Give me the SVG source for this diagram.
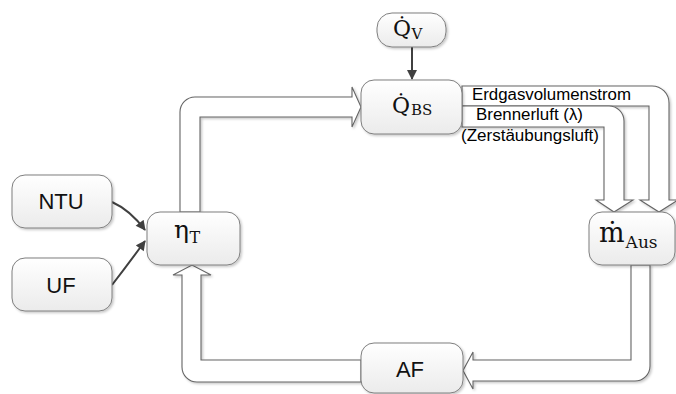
<svg xmlns="http://www.w3.org/2000/svg" width="676" height="394" viewBox="0 0 676 394">
  <defs>
    <linearGradient id="boxFill" x1="0" y1="0" x2="0" y2="1">
      <stop offset="0" stop-color="#ffffff"/>
      <stop offset="1" stop-color="#ebebeb"/>
    </linearGradient>
    <filter id="shadow" x="-10%" y="-10%" width="125%" height="130%">
      <feDropShadow dx="1.5" dy="1.5" stdDeviation="1" flood-color="#000000" flood-opacity="0.22"/>
    </filter>
    <marker id="head" viewBox="0 0 10 10" refX="9" refY="5" markerWidth="11" markerHeight="10" markerUnits="userSpaceOnUse" orient="auto">
      <path d="M0,0 L10,5 L0,10 Z" fill="#404040"/>
    </marker>
    <style>
      .box { fill: url(#boxFill); stroke: #7f7f7f; stroke-width: 1; filter: url(#shadow); }
      .flow { fill: #ffffff; stroke: #656565; stroke-width: 1.1; stroke-linejoin: miter; filter: url(#shadow); }
      .link { fill: none; stroke: #404040; stroke-width: 2; marker-end: url(#head); }
      .lbl { font-family: "Liberation Sans", Arial, sans-serif; fill: #000000; }
      .node { font-family: "Liberation Sans", Arial, sans-serif; font-size: 22px; fill: #111111; text-anchor: middle; }
      .math { font-family: "DejaVu Serif", "Liberation Serif", serif; fill: #111111; }
    </style>
  </defs>

  <g id="connectors">
    <!-- wide flow arrows -->
    <path class="flow" d="M180,212 V112 A15,15 0 0 1 195,97 H352 V87 L361,107 L352,127 V117 H200 V212 Z"/>
    <path class="flow" d="M361,360 H201 V275 H211 L192,265 L173,275 H182 V367 A15,15 0 0 0 197,382 H361 Z"/>
    <path class="flow" d="M631,265 V360 H473 V352 L463,370.5 L473,389 V381 H635 A15,15 0 0 0 650,366 V265 Z"/>
    <path class="flow" d="M462,86 H652 A17,17 0 0 1 669,103 V200 H678 L659,212 L640,200 H649 V106 H462 Z"/>
    <path class="flow" d="M462,106 H609 A15,15 0 0 1 624,121 V200 H633 L614,212 L596,200 H604 V127 H462 Z"/>
    <!-- thin arrows -->
    <path class="link" d="M112,202 Q130,210 145,230"/>
    <path class="link" d="M112,285 Q129,263 145,241"/>
    <path class="link" d="M412,47 V79"/>
    <!-- flow labels -->
    <text class="lbl" x="472" y="100" font-size="16" textLength="159" lengthAdjust="spacingAndGlyphs">Erdgasvolumenstrom</text>
    <text class="lbl" x="476" y="120" font-size="16" textLength="107" lengthAdjust="spacingAndGlyphs">Brennerluft (λ)</text>
    <text class="lbl" x="461" y="141" font-size="16" textLength="138" lengthAdjust="spacingAndGlyphs">(Zerstäubungsluft)</text>
  </g>

  <g id="node-qv">
    <rect class="box" x="377" y="13" width="69" height="34" rx="15"/>
    <text class="math" x="393" y="36" font-size="22">Q̇<tspan font-size="15" dx="0.5" dy="3">V</tspan></text>
  </g>

  <g id="node-qbs">
    <rect class="box" x="361" y="80" width="101" height="54" rx="13"/>
    <text class="math" x="392" y="113" font-size="22">Q̇<tspan font-size="15" dx="1" dy="2">BS</tspan></text>
  </g>

  <g id="node-ntu">
    <rect class="box" x="12" y="175" width="100" height="53" rx="13"/>
    <text class="node" x="61" y="209">NTU</text>
  </g>

  <g id="node-uf">
    <rect class="box" x="12" y="258" width="100" height="53" rx="13"/>
    <text class="node" x="61" y="293">UF</text>
  </g>

  <g id="node-eta">
    <rect class="box" x="147" y="212" width="93" height="53" rx="13"/>
    <text class="math" x="174" y="238" font-size="25">η<tspan font-size="16" dx="0.5" dy="5">T</tspan></text>
  </g>

  <g id="node-maus">
    <rect class="box" x="589" y="212" width="86" height="53" rx="13"/>
    <text class="math" x="599" y="242" font-size="27">ṁ<tspan font-size="17" dx="1" dy="6">Aus</tspan></text>
  </g>

  <g id="node-af">
    <rect class="box" x="361" y="343" width="102" height="50" rx="13"/>
    <text class="node" x="410" y="377">AF</text>
  </g>
</svg>
